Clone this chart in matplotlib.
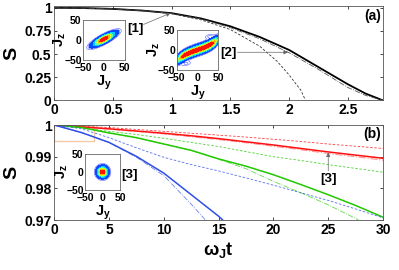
import numpy as np
import matplotlib
matplotlib.use("Agg")
import matplotlib.pyplot as plt
from matplotlib.patches import Rectangle
from matplotlib.colors import ListedColormap

plt.rcParams['font.family'] = ['Liberation Sans', 'DejaVu Sans']
plt.rcParams['font.weight'] = 'bold'
plt.rcParams['mathtext.fontset'] = 'custom'
plt.rcParams['mathtext.rm'] = 'Liberation Sans:bold'
plt.rcParams['mathtext.it'] = 'Liberation Sans:bold'
plt.rcParams['mathtext.bf'] = 'Liberation Sans:bold'

# panel (a) curves
t_a = [0, 0.25, 0.5, 0.75, 1.0, 1.25, 1.5, 1.75, 2.0, 2.25, 2.5, 2.65, 2.8]
s_exact = [1.0, 0.997, 0.988, 0.97, 0.942, 0.885, 0.80, 0.685, 0.545, 0.36, 0.175, 0.075, 0.0]
s_dashdot = [1.0, 0.997, 0.988, 0.969, 0.938, 0.88, 0.785, 0.665, 0.515, 0.335, 0.14, 0.055, 0.0]
t_short = [0, 0.25, 0.5, 0.75, 1.0, 1.25, 1.5, 1.75, 1.9, 2.0, 2.1, 2.14]
s_short = [1.0, 0.997, 0.988, 0.969, 0.936, 0.87, 0.765, 0.585, 0.42, 0.275, 0.11, 0.0]

# panel (b) curves
t_b = [0, 2.5, 5, 7.5, 10, 12.5, 15, 17.5, 20, 22.5, 25, 27.5, 30]
red_solid = [1.0, 0.9994, 0.9988, 0.9981, 0.9974, 0.9966, 0.9957, 0.9947, 0.9937, 0.9926, 0.9915, 0.9905, 0.9895]
red_dash = [1.0, 0.9996, 0.9992, 0.9986, 0.998, 0.9974, 0.9968, 0.9962, 0.9955, 0.9948, 0.994, 0.9933, 0.9926]
red_dashdot = [1.0, 0.9994, 0.9987, 0.998, 0.9972, 0.9963, 0.9954, 0.9944, 0.9933, 0.9922, 0.991, 0.99, 0.9889]
green_solid = [1.0, 0.9992, 0.9975, 0.996, 0.994, 0.992, 0.9893, 0.987, 0.9843, 0.9812, 0.978, 0.9746, 0.9709]
green_dash = [1.0, 0.9991, 0.998, 0.997, 0.9958, 0.9945, 0.9932, 0.9916, 0.990, 0.9888, 0.9875, 0.9863, 0.9851]
t_gdd = [0, 2.5, 5, 7.5, 10, 12.5, 15, 17.5, 20, 22.5, 25, 27.5, 28.5]
green_dashdot = [1.0, 0.9992, 0.9975, 0.996, 0.994, 0.992, 0.9892, 0.9862, 0.9822, 0.9786, 0.9748, 0.9705, 0.9685]
blue_dash = [1.0, 0.9988, 0.996, 0.9928, 0.9898, 0.9875, 0.9855, 0.9833, 0.981, 0.9786, 0.9762, 0.9735, 0.9707]
t_bs = [0, 2.5, 5, 7.5, 10, 12.5, 15, 16]
blue_solid = [1.0, 0.9976, 0.9945, 0.9901, 0.9848, 0.978, 0.9712, 0.968]
t_bdd = [0, 2.5, 5, 7.5, 10, 12.5, 13.8, 14.5]
blue_dashdot = [1.0, 0.9976, 0.9945, 0.9898, 0.984, 0.975, 0.970, 0.9675]

RED = '#ff1010'
GREEN = '#22c800'
BLUE = '#2f4fe8'

fig = plt.figure(figsize=(3.99, 2.7), dpi=100)
ax1 = fig.add_axes([0.136, 0.628, 0.824, 0.35])
ax2 = fig.add_axes([0.136, 0.185, 0.824, 0.352])

for ax in (ax1, ax2):
    ax.tick_params(direction='in', top=True, right=True, length=2.5, width=0.5,
                   labelsize=10, pad=2)
    for sp in ax.spines.values():
        sp.set_linewidth(0.6)
        sp.set_color('#555555')

# (a)
ax1.plot(t_a, s_exact, color='black', lw=1.3)
ax1.plot(t_a, s_dashdot, color='#555555', lw=0.6, ls='-.')
ax1.plot(t_short, s_short, color='#333333', lw=0.6, ls=(0, (3, 2)))
ax1.set_xlim(0, 2.8)
ax1.set_ylim(0, 1.02)
ax1.set_xticks([0, 0.5, 1, 1.5, 2, 2.5])
ax1.set_xticklabels(['0', '0.5', '1', '1.5', '2', '2.5'], fontweight='bold')
ax1.set_yticks([0, 0.25, 0.5, 0.75, 1])
ax1.set_yticklabels(['0', '0.25', '0.5', '0.75', '1'], fontweight='bold')
ax1.set_ylabel('S', fontsize=14, fontweight='bold', labelpad=3)
ax1.text(0.995, 0.89, '(a)', transform=ax1.transAxes, ha='right', va='center',
         fontsize=10, fontweight='bold')
ax1.text(0.69, 0.77, '[1]', ha='center', va='center', fontsize=9.5, fontweight='bold')
ax1.annotate('', xy=(0.99, 0.943), xytext=(0.76, 0.82),
             arrowprops=dict(arrowstyle='-|>', color='#666666', lw=0.5,
                             mutation_scale=6, shrinkA=0, shrinkB=0))
ax1.text(1.48, 0.51, '[2]', ha='center', va='center', fontsize=9.5, fontweight='bold')
ax1.annotate('', xy=(1.99, 0.52), xytext=(1.56, 0.52),
             arrowprops=dict(arrowstyle='-|>', color='#666666', lw=0.5,
                             mutation_scale=6, shrinkA=0, shrinkB=0))

# (b)
ax2.plot(t_b, red_dash, color=RED, lw=0.6, ls=(0, (3, 2)), alpha=0.8)
ax2.plot(t_b, red_dashdot, color=RED, lw=0.8, ls='-.', alpha=0.45)
ax2.plot(t_b, red_solid, color=RED, lw=1.1)
ax2.plot(t_b, green_dash, color=GREEN, lw=0.6, ls=(0, (3, 2)), alpha=0.8)
ax2.plot(t_gdd, green_dashdot, color=GREEN, lw=0.6, ls='-.', alpha=0.7)
ax2.plot(t_b, green_solid, color=GREEN, lw=1.1)
ax2.plot(t_b, blue_dash, color=BLUE, lw=0.6, ls=(0, (3, 2)), alpha=0.8)
ax2.plot(t_bdd, blue_dashdot, color=BLUE, lw=0.6, ls='-.', alpha=0.7)
ax2.plot(t_bs, blue_solid, color=BLUE, lw=1.1)
ax2.set_xlim(0, 30)
ax2.set_ylim(0.97, 1.0)
ax2.set_xticks([0, 5, 10, 15, 20, 25, 30])
ax2.set_xticklabels(['0', '5', '10', '15', '20', '25', '30'], fontweight='bold')
ax2.set_yticks([0.97, 0.98, 0.99, 1.0])
ax2.set_yticklabels(['0.97', '0.98', '0.99', '1'], fontweight='bold')
ax2.set_ylabel('S', fontsize=14, fontweight='bold', labelpad=3)
ax2.set_xlabel(r'$\omega_J t$', fontsize=13, labelpad=2)
ax2.text(0.995, 0.905, '(b)', transform=ax2.transAxes, ha='right', va='center',
         fontsize=10, fontweight='bold')
ax2.add_patch(Rectangle((0, 0.9948), 3.6, 0.0052, fill=False, ec='#f4c6a4', lw=0.9))
ax2.text(25, 0.9829, '[3]', ha='center', va='center', fontsize=9.5, fontweight='bold')
ax2.annotate('', xy=(25, 0.9913), xytext=(25, 0.9855),
             arrowprops=dict(arrowstyle='-|>', color='#666666', lw=0.5,
                             mutation_scale=6, shrinkA=0, shrinkB=0))
fig.text(0.325, 0.352, '[3]', ha='center', va='center', fontsize=9.5, fontweight='bold')

# insets (phase-space snapshots)
jy = np.linspace(-50, 50, 301)
JY, JZ = np.meshgrid(jy, jy)
cmap = ListedColormap(plt.get_cmap('jet')(np.linspace(0.13, 0.97, 256)))


def ellipse(angle_deg, a, b, cy=0.0, cz=0.0):
    th = np.deg2rad(angle_deg)
    u = (JY - cy) * np.cos(th) + (JZ - cz) * np.sin(th)
    v = -(JY - cy) * np.sin(th) + (JZ - cz) * np.cos(th)
    return np.exp(-(u / a) ** 2 - (v / b) ** 2)


def s_band():
    zc = 0.35 * JY + 0.00008 * JY ** 3
    band = np.exp(-((JZ - zc) / 8.5) ** 2) * np.exp(-(JY / 47.0) ** 8)
    wisp = 0.035 * (ellipse(15, 11, 5, -27, -34) + ellipse(15, 11, 5, 29, 34))
    return band + wisp


def inset(rect, field):
    ia = fig.add_axes(rect)
    levels = [0.05, 0.2, 0.35, 0.5, 0.65, 0.8, 1.01]
    ia.contourf(JY, JZ, field, levels=levels, cmap=cmap, vmin=0.05, vmax=1.0)
    ia.contour(JY, JZ, field, levels=[0.015, 0.03], colors='#4050ff', linewidths=0.35)
    ia.set_xlim(-50, 50)
    ia.set_ylim(-50, 50)
    ia.set_xticks([-50, 0, 50])
    ia.set_yticks([-50, 0, 50])
    ia.set_xticklabels(['\u221250', '0', '50'], fontsize=7.5, fontweight='bold')
    ia.set_yticklabels(['\u221250', '0', '50'], fontsize=7.5, fontweight='bold')
    ia.tick_params(direction='in', length=0)
    ia.tick_params(axis='x', pad=2)
    ia.tick_params(axis='y', pad=1)
    for sp in ia.spines.values():
        sp.set_linewidth(0.6)
        sp.set_color('#666666')
    ia.set_xlabel(r'$J_y$', fontsize=10.5, labelpad=0.5)
    ia.set_ylabel(r'$J_z$', fontsize=10.5, labelpad=-3)
    return ia


inset([0.208, 0.778, 0.105, 0.148], ellipse(30, 23, 6.5, 0, 2))
inset([0.443, 0.741, 0.104, 0.148], s_band())
inset([0.213, 0.296, 0.088, 0.134], ellipse(0, 11.5, 11.5))

fig.savefig('out.png', dpi=100)
